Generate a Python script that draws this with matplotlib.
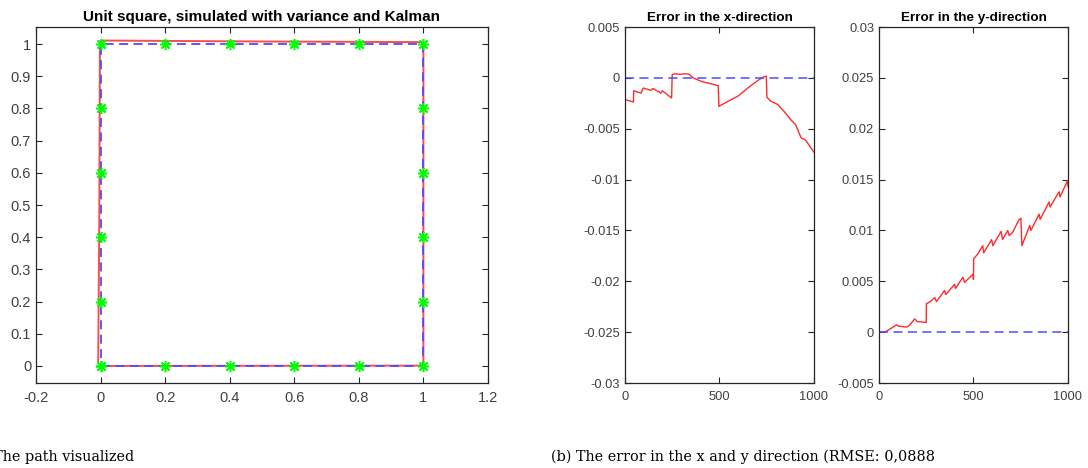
import matplotlib
matplotlib.use("Agg")
import matplotlib.pyplot as plt

plt.rcParams['font.family'] = ['Liberation Sans', 'DejaVu Sans']
plt.rcParams['axes.unicode_minus'] = False

# reference square and the waypoints along it
square_x = [0, 1, 1, 0, 0]
square_y = [0, 0, 1, 1, 0]
waypoint_x = [0, 0.2, 0.4, 0.6, 0.8, 1, 1, 1, 1, 1, 1,
              0.8, 0.6, 0.4, 0.2, 0, 0, 0, 0, 0, 0]
waypoint_y = [0, 0, 0, 0, 0, 0, 0.2, 0.4, 0.6, 0.8, 1,
              1, 1, 1, 1, 1, 0.8, 0.6, 0.4, 0.2, 0]

# Kalman estimate of the path
est_x = [0.0, 0.5, 1.0, 1.0, 1.0, 0.5, 0.0, -0.002, -0.004, -0.0073]
est_y = [0.0, 0.0005, 0.001, 0.5, 1.006, 1.008, 1.011, 1.0, 0.45, 0.015]

# error in x per sample
err_x_t = [0, 0, 45, 46, 85, 97, 137, 149, 190, 198, 247, 250, 262, 290, 320, 338,
           363, 407, 459, 494, 497, 546, 598, 650, 703, 737, 748, 751, 772, 807,
           842, 877, 903, 932, 955, 1000]
err_x_v = [0, -0.00214, -0.00237, -0.00127, -0.0015, -0.001, -0.00123, -0.00104,
           -0.0015, -0.00127, -0.00198, 0.00032, 0.0004, 0.00035, 0.0004, 0.00036,
           -0.00003, -0.00036, -0.0006, -0.00078, -0.0028, -0.0023, -0.0018, -0.001,
           -0.00026, 0.00013, 0.00016, -0.0019, -0.0023, -0.0026, -0.0033, -0.0041,
           -0.0046, -0.0059, -0.0061, -0.0073]

# error in y per sample
err_y_t = [0, 32, 49, 93, 102, 146, 160, 189, 202, 225, 250, 251, 272, 295, 304,
           347, 353, 400, 405, 444, 453, 498, 500, 501, 523, 549, 554, 596, 602,
           646, 654, 681, 689, 707, 739, 751, 756, 798, 804, 847, 853, 900, 905,
           953, 958, 998, 1000]
err_y_v = [0.00003, 0, 0.0002, 0.00072, 0.0006, 0.0005, 0.00066, 0.0013, 0.00105,
           0.001, 0.00095, 0.0028, 0.003, 0.0034, 0.003, 0.0041, 0.0037, 0.0047,
           0.0043, 0.0054, 0.0049, 0.0057, 0.0052, 0.0072, 0.0077, 0.0085, 0.0078,
           0.0091, 0.0085, 0.0099, 0.0091, 0.01, 0.0095, 0.0098, 0.011, 0.0112,
           0.0085, 0.0105, 0.01, 0.0116, 0.0111, 0.0128, 0.0123, 0.0138, 0.0133,
           0.0149, 0.0143]

zero_t = [0, 1000]
zero_v = [0, 0]

RED = '#ff2a2a'
BLUE = '#4d4dff'
GREEN = '#00ff00'
FRAME = '#262626'
TICKS = '#404040'
SERIF = ['DejaVu Serif', 'Liberation Serif']


def style_axes(ax, size, xpad):
    for s in ax.spines.values():
        s.set_color(FRAME)
        s.set_linewidth(0.9)
    ax.tick_params(direction='in', length=4, width=0.8, colors=FRAME,
                   labelcolor=TICKS, labelsize=size, top=True, right=True)
    ax.tick_params(axis='y', pad=3.5)
    ax.tick_params(axis='x', pad=xpad)


fig = plt.figure(figsize=(10.88, 4.68), dpi=100)

# path visualised
ax1 = fig.add_axes([0.0331, 0.1816, 0.4154, 0.7607])
ax1.plot(est_x, est_y, color=RED, lw=1.4, alpha=0.85)
ax1.plot(square_x, square_y, color=BLUE, lw=1.3, dashes=(5, 3))
ax1.plot(waypoint_x, waypoint_y, ls='none', marker=(8, 2, 0), ms=8, mew=1.1,
         color=GREEN)
ax1.set_xlim(-0.2, 1.2)
ax1.set_ylim(-0.053, 1.053)
ax1.set_xticks([-0.2, 0, 0.2, 0.4, 0.6, 0.8, 1, 1.2])
ax1.set_xticklabels(['-0.2', '0', '0.2', '0.4', '0.6', '0.8', '1', '1.2'])
ax1.set_yticks([0, 0.1, 0.2, 0.3, 0.4, 0.5, 0.6, 0.7, 0.8, 0.9, 1])
ax1.set_yticklabels(['0', '0.1', '0.2', '0.3', '0.4', '0.5', '0.6', '0.7',
                     '0.8', '0.9', '1'])
ax1.set_title('Unit square, simulated with variance and Kalman',
              fontsize=11, fontweight='bold', pad=4)
style_axes(ax1, 10.5, 6)

# error in x
ax2 = fig.add_axes([0.5744, 0.1816, 0.1737, 0.7607])
ax2.plot(err_x_t, err_x_v, color=RED, lw=1.0)
ax2.plot(zero_t, zero_v, color=BLUE, lw=1.3, dashes=(5, 3), alpha=0.85)
ax2.set_xlim(0, 1000)
ax2.set_ylim(-0.03, 0.005)
ax2.set_xticks([0, 500, 1000])
ax2.set_yticks([-0.03, -0.025, -0.02, -0.015, -0.01, -0.005, 0, 0.005])
ax2.set_yticklabels(['-0.03', '-0.025', '-0.02', '-0.015', '-0.01', '-0.005',
                     '0', '0.005'])
ax2.set_title('Error in the x-direction', fontsize=9.7, fontweight='bold', pad=4)
style_axes(ax2, 9.3, 5.5)

# error in y
ax3 = fig.add_axes([0.8079, 0.1816, 0.1737, 0.7607])
ax3.plot(err_y_t, err_y_v, color=RED, lw=1.0)
ax3.plot(zero_t, zero_v, color=BLUE, lw=1.3, dashes=(5, 3), alpha=0.85)
ax3.set_xlim(0, 1000)
ax3.set_ylim(-0.005, 0.03)
ax3.set_xticks([0, 500, 1000])
ax3.set_yticks([-0.005, 0, 0.005, 0.01, 0.015, 0.02, 0.025, 0.03])
ax3.set_yticklabels(['-0.005', '0', '0.005', '0.01', '0.015', '0.02', '0.025',
                     '0.03'])
ax3.set_title('Error in the y-direction', fontsize=9.7, fontweight='bold', pad=4)
style_axes(ax3, 9.3, 5.5)

# sub-captions
fig.text(134 / 1088, 1 - 457 / 468, '(a) The path visualized', ha='right',
         va='center', fontsize=10.4, family=SERIF)
fig.text(551 / 1088, 1 - 457 / 468, '(b) The error in the x and y direction (RMSE: 0,0888',
         ha='left', va='center', fontsize=10.4, family=SERIF)

fig.savefig('out.png', dpi=100)
